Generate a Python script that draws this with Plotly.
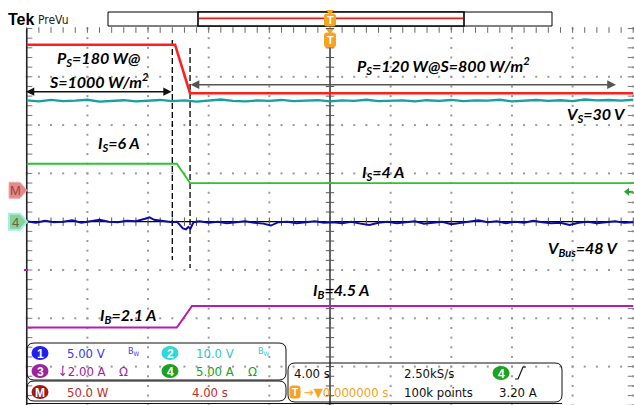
import plotly.graph_objects as go

W, H = 634, 405

# ---------------- screen geometry (graticule) ----------------
X_T0 = 330.0            # trigger column, pixels
PX_PER_S = 60.65 / 4.0  # 4.00 s/div
Y_DIV0 = 221.7          # centre row, pixels
PX_PER_DIV = 48.3


def X(px):
    return px / W


def Y(py):
    return 1.0 - py / H


def t_of(px):
    return (px - X_T0) / PX_PER_S


def d_of(py):
    return (Y_DIV0 - py) / PX_PER_DIV


# ---------------- measured values ----------------
PS_HIGH, PS_LOW = 180, 120        # W
IS_HIGH, IS_LOW = 6, 4            # A
IB_LOW, IB_HIGH = 2.1, 4.5        # A
VS_LEVEL = 30                     # V
VBUS_LEVEL = 48                   # V
IRR_HIGH, IRR_LOW = 1000, 800     # W/m2

ps_t = [-20.0, -10.22, -9.23, 20.0]
ps_w = [PS_HIGH, PS_HIGH, PS_LOW, PS_LOW]

is_t = [-20.0, -10.1, -9.23, 20.0]
is_a = [IS_HIGH, IS_HIGH, IS_LOW, IS_LOW]

ib_t = [-20.0, -10.1, -9.1, 20.0]
ib_a = [IB_LOW, IB_LOW, IB_HIGH, IB_HIGH]

vs_t = [-20.0, -19.2, -18.4, -17.6, -16.8, -16.0, -15.2, -14.4, -13.6, -12.8,
        -12.0, -11.2, -10.4, -9.6, -8.8, -8.0, -7.2, -6.4, -5.6, -4.8,
        -4.0, -3.2, -2.4, -1.6, -0.8, 0.0, 0.8, 1.6, 2.4, 3.2,
        4.0, 4.8, 5.6, 6.4, 7.2, 8.0, 8.8, 9.6, 10.4, 11.2,
        12.0, 12.8, 13.6, 14.4, 15.2, 16.0, 16.8, 17.6, 18.4, 19.2, 20.0]
vs_v = [30.1, 29.9, 30.2, 29.95, 30.05, 30.25, 29.85, 30.0, 30.15, 29.9,
        30.05, 30.2, 29.95, 30.1, 29.85, 30.05, 30.3, 30.0, 29.9, 30.1,
        30.0, 30.2, 29.95, 30.05, 30.15, 29.9, 30.1, 30.0, 30.25, 29.95,
        30.05, 30.1, 29.9, 30.15, 30.0, 30.2, 29.95, 30.1, 30.05, 30.25,
        29.9, 30.1, 30.2, 30.0, 30.15, 29.95, 30.3, 30.1, 30.2, 30.05, 30.25]

vbus_t = [-20.0, -19.4, -18.8, -18.2, -17.6, -17.0, -16.4, -15.8, -15.2, -14.6,
          -14.0, -13.4, -12.8, -12.2, -11.9, -11.6, -11.0, -10.4, -10.1, -9.9,
          -9.7, -9.5, -9.35, -9.2, -9.0, -8.6, -8.0, -7.4, -6.8, -6.2,
          -5.6, -5.0, -4.4, -3.9, -3.4, -2.8, -2.2, -1.6, -1.0, -0.4,
          0.2, 0.8, 1.4, 2.0, 2.6, 3.2, 3.8, 4.4, 5.0, 5.6,
          6.2, 6.8, 7.4, 8.0, 8.6, 9.2, 9.8, 10.4, 11.0, 11.6,
          12.2, 12.8, 13.4, 14.0, 14.6, 15.2, 15.8, 16.4, 17.0, 17.6,
          18.2, 18.8, 19.4, 20.0]
vbus_v = [48.05, 47.9, 48.1, 47.95, 48.0, 48.15, 47.9, 48.05, 48.2, 48.0,
          47.95, 48.1, 48.05, 48.3, 48.45, 48.2, 48.1, 47.95, 48.0, 47.6,
          47.3, 47.2, 47.45, 47.3, 47.95, 48.05, 47.9, 48.0, 47.85, 47.95,
          48.05, 47.9, 47.8, 47.6, 47.95, 48.0, 47.85, 47.95, 48.05, 47.9,
          47.95, 47.85, 48.0, 47.8, 47.65, 47.9, 48.0, 47.85, 47.95, 48.05,
          47.8, 47.9, 48.0, 47.75, 47.9, 48.05, 48.15, 47.95, 48.05, 47.85,
          48.0, 47.9, 48.1, 47.95, 47.85, 47.9, 47.65, 47.9, 48.0, 47.85,
          47.95, 48.05, 47.9, 47.95]

# vertical channel settings: units/div, reference value, position (div)
CH = {
    "math": dict(scale=59.7, ref=0.0, pos=0.65, color="#ff1f1f", width=2.6),
    "ch2": dict(scale=10.0, ref=0.0, pos=-0.5, color="#17a0a0", width=2.3),
    "ch4": dict(scale=5.0, ref=0.0, pos=0.0, color="#2ec42e", width=1.8),
    "ch1": dict(scale=5.0, ref=VBUS_LEVEL, pos=0.0, color="#0c0ca0", width=2.0),
    "ch3": dict(scale=5.39, ref=0.0, pos=-2.58, color="#b51cb5", width=2.0),
}


def to_div(ch, values):
    c = CH[ch]
    return [(v - c["ref"]) / c["scale"] + c["pos"] for v in values]


fig = go.Figure()

# ---------------- graticule ----------------
minor_t = [-20 + 0.8 * k for k in range(51)]
minor_d = [-3.8 + 0.2 * k for k in range(40)]
gx, gy = [], []
for col in [-16, -12, -8, -4, 4, 8, 12, 16, 20]:
    for d in minor_d:
        gx.append(col)
        gy.append(d)
for row in [3, 2, 1, -1, -2, -3]:
    for t in minor_t:
        gx.append(t)
        gy.append(row)
fig.add_trace(go.Scatter(x=gx, y=gy, mode="markers", hoverinfo="skip",
                         marker=dict(size=2, color="#999999", symbol="square")))

# centre lines
fig.add_trace(go.Scatter(x=[-20, 20], y=[0, 0], mode="lines", hoverinfo="skip",
                         line=dict(color="#000", width=1.2)))
fig.add_trace(go.Scatter(x=[0, 0], y=[4, -3.8], mode="lines", hoverinfo="skip",
                         line=dict(color="#000", width=1.2)))
fig.add_trace(go.Scatter(x=minor_t, y=[0] * len(minor_t), mode="markers", hoverinfo="skip",
                         marker=dict(symbol="line-ns", size=6, line=dict(width=1, color="#555"))))
fig.add_trace(go.Scatter(x=[0] * len(minor_d), y=minor_d, mode="markers", hoverinfo="skip",
                         marker=dict(symbol="line-ew", size=6, line=dict(width=1, color="#555"))))
# top edge ticks
fig.add_trace(go.Scatter(x=minor_t, y=[d_of(30.0)] * len(minor_t), mode="markers", hoverinfo="skip",
                         marker=dict(symbol="line-ns", size=4, line=dict(width=1, color="#666"))))
# left / right edge ticks
fig.add_trace(go.Scatter(x=[t_of(29.5)] * len(minor_d) + [t_of(630.5)] * len(minor_d),
                         y=minor_d + minor_d, mode="markers", hoverinfo="skip",
                         marker=dict(symbol="line-ew", size=4, line=dict(width=1, color="#777"))))
# left border
fig.add_trace(go.Scatter(x=[-20, -20], y=[4, -3.8], mode="lines", hoverinfo="skip",
                         line=dict(color="#222", width=1.6)))

# ---------------- transition markers ----------------
fig.add_trace(go.Scatter(x=[-10.4, -10.4], y=[d_of(40), d_of(260)], mode="lines", hoverinfo="skip",
                         line=dict(color="#000", width=1.3, dash="6px,3px")))
fig.add_trace(go.Scatter(x=[-9.23, -9.23], y=[d_of(48), d_of(268)], mode="lines", hoverinfo="skip",
                         line=dict(color="#000", width=1.3, dash="6px,3px")))

# ---------------- waveforms ----------------
def wave(ch, t, v):
    c = CH[ch]
    fig.add_trace(go.Scatter(x=t, y=to_div(ch, v), mode="lines", hoverinfo="skip",
                             line=dict(color=c["color"], width=c["width"])))


wave("ch3", ib_t, ib_a)
wave("ch1", vbus_t, vbus_v)
wave("ch4", is_t, is_a)
wave("ch2", vs_t, vs_v)
wave("math", ps_t, ps_w)

fig.update_xaxes(range=[t_of(0), t_of(W)], visible=False, fixedrange=True)
fig.update_yaxes(range=[d_of(H), d_of(0)], visible=False, fixedrange=True)

shapes = []
ann = []


def rrect(x0, y0, x1, y1, r, color="#000", width=1.0, fill=None):
    p = (f"M {X(x0 + r)},{Y(y0)} L {X(x1 - r)},{Y(y0)} Q {X(x1)},{Y(y0)} {X(x1)},{Y(y0 + r)} "
         f"L {X(x1)},{Y(y1 - r)} Q {X(x1)},{Y(y1)} {X(x1 - r)},{Y(y1)} "
         f"L {X(x0 + r)},{Y(y1)} Q {X(x0)},{Y(y1)} {X(x0)},{Y(y1 - r)} "
         f"L {X(x0)},{Y(y0 + r)} Q {X(x0)},{Y(y0)} {X(x0 + r)},{Y(y0)} Z")
    shapes.append(dict(type="path", xref="paper", yref="paper", path=p,
                       line=dict(color=color, width=width),
                       fillcolor=fill if fill else "rgba(0,0,0,0)"))


NARROW = "Liberation Sans Narrow, DejaVu Sans Condensed, sans-serif"
SANS = "Liberation Sans, Arial, sans-serif"


def text(s, x, y, size=13, color="#000", family=NARROW, xanchor="left", bold=False, italic=False):
    ann.append(dict(text=s, x=X(x), y=Y(y), xref="paper", yref="paper", showarrow=False,
                    xanchor=xanchor, yanchor="middle",
                    font=dict(size=size, color=color, family=family,
                              weight="bold" if bold else "normal",
                              style="italic" if italic else "normal")))


def badge(cx, cy, label, fill, rx=8.5, ry=7.0, txt="#fff"):
    shapes.append(dict(type="circle", xref="paper", yref="paper",
                       x0=X(cx - rx), x1=X(cx + rx), y0=Y(cy - ry), y1=Y(cy + ry),
                       fillcolor=fill, line=dict(width=0)))
    text(label, cx, cy + 0.5, size=12, color=txt, xanchor="center", bold=True, family=SANS)


# ---------------- header ----------------
text("Tek", 6, 19, size=16, bold=True, family=SANS)
text("PreVu", 36, 19.5, size=12, color="#222")
shapes.append(dict(type="rect", xref="paper", yref="paper", x0=X(108), x1=X(552), y0=Y(12), y1=Y(26),
                   line=dict(color="#000", width=1), fillcolor="#fff"))
shapes.append(dict(type="rect", xref="paper", yref="paper", x0=X(198), x1=X(464), y0=Y(12), y1=Y(26),
                   line=dict(color="#000", width=1.6), fillcolor="#fff"))
shapes.append(dict(type="line", xref="paper", yref="paper", x0=X(199), x1=X(463), y0=Y(18.3), y1=Y(18.3),
                   line=dict(color="#f3b6b6", width=3)))
shapes.append(dict(type="line", xref="paper", yref="paper", x0=X(199), x1=X(463), y0=Y(18.3), y1=Y(18.3),
                   line=dict(color="#d42020", width=1.2)))

ORANGE = "#f5a320"


def t_marker(cx, top, h):
    shapes.append(dict(type="path", xref="paper", yref="paper",
                       path=f"M {X(cx - 4)},{Y(top - 4)} L {X(cx + 4)},{Y(top - 4)} L {X(cx)},{Y(top + 1)} Z",
                       fillcolor=ORANGE, line=dict(width=0)))
    rrect(cx - 5.5, top, cx + 5.5, top + h, 2, color=ORANGE, width=1, fill=ORANGE)
    text("T", cx, top + h / 2 + 0.5, size=11, color="#fff", xanchor="center", bold=True, family=SANS)


t_marker(X_T0, 14, 12)
t_marker(X_T0, 33, 14)

# ---------------- left / right edge markers ----------------
ym = Y_DIV0 - CH["math"]["pos"] * PX_PER_DIV
shapes.append(dict(type="path", xref="paper", yref="paper",
                   path=(f"M {X(9)},{Y(ym - 8)} L {X(20)},{Y(ym - 8)} L {X(27)},{Y(ym)} "
                         f"L {X(20)},{Y(ym + 8)} L {X(9)},{Y(ym + 8)} Z"),
                   fillcolor="#e08a8a", line=dict(color="#f0b0b0", width=1)))
text("M", 15, ym + 0.5, size=13, color="#a84040", xanchor="center", family=SANS)
y4 = Y_DIV0 - CH["ch4"]["pos"] * PX_PER_DIV
shapes.append(dict(type="path", xref="paper", yref="paper",
                   path=(f"M {X(9)},{Y(y4 - 8)} L {X(20)},{Y(y4 - 8)} L {X(27)},{Y(y4)} "
                         f"L {X(20)},{Y(y4 + 8)} L {X(9)},{Y(y4 + 8)} Z"),
                   fillcolor="#8ed08e", line=dict(color="#9feeee", width=2)))
text("4", 15, y4 + 0.5, size=13, color="#5a6a5a", xanchor="center", family=SANS)
shapes.append(dict(type="line", xref="paper", yref="paper", x0=X(24), x1=X(27), y0=Y(270), y1=Y(270),
                   line=dict(color="#b51cb5", width=2)))
# ch4 trigger level arrow on the right edge
ytrig = 191.7
shapes.append(dict(type="path", xref="paper", yref="paper",
                   path=f"M {X(624)},{Y(ytrig)} L {X(629)},{Y(ytrig - 4)} L {X(629)},{Y(ytrig + 4)} Z",
                   fillcolor="#22aa22", line=dict(width=0)))
shapes.append(dict(type="line", xref="paper", yref="paper", x0=X(628), x1=X(633), y0=Y(ytrig), y1=Y(ytrig),
                   line=dict(color="#22aa22", width=1.5)))

# ---------------- arrows ----------------
ya = d_of(91.7)
ann.append(dict(x=-10.45, y=ya, ax=t_of(24.5), ay=ya, xref="x", yref="y", axref="x", ayref="y",
                text="", showarrow=True, arrowhead=2, startarrowhead=2, arrowside="end+start",
                arrowsize=1.1, startarrowsize=1.1, arrowwidth=1.5, arrowcolor="#111"))
yb = d_of(84.7)
ann.append(dict(x=t_of(616), y=yb, ax=-9.3, ay=yb, xref="x", yref="y", axref="x", ayref="y",
                text="", showarrow=True, arrowhead=2, startarrowhead=2, arrowside="end+start",
                arrowsize=1.1, startarrowsize=1.1, arrowwidth=1.6, arrowcolor="#555"))

# ---------------- waveform labels ----------------
LBL = "Lato, Open Sans, sans-serif"


def label(s, x, y):
    text(s, x, y, size=16, family=LBL, bold=True, italic=True)


label(f"P<sub>S</sub>={PS_HIGH} W@", 55, 58)
label(f"S={IRR_HIGH} W/m<sup>2</sup>", 47, 80)
label(f"I<sub>S</sub>={IS_HIGH} A", 96, 143)
label(f"P<sub>S</sub>={PS_LOW} W@S={IRR_LOW} W/m<sup>2</sup>", 355, 65)
label(f"V<sub>S</sub>={VS_LEVEL} V", 565, 115)
label(f"I<sub>S</sub>={IS_LOW} A", 360, 172)
label(f"V<sub>Bus</sub>={VBUS_LEVEL} V", 546, 248)
label(f"I<sub>B</sub>={IB_HIGH} A", 311, 290)
label(f"I<sub>B</sub>={IB_LOW} A", 98, 315)

# ---------------- readout panel ----------------
rrect(27, 343, 286, 380, 7, color="#111", width=1)
rrect(27, 381, 286, 401, 7, color="#111", width=1)
rrect(288, 363, 562, 402, 7, color="#111", width=1)
shapes.append(dict(type="line", xref="paper", yref="paper", x0=X(27), x1=X(562), y0=Y(403.5), y1=Y(403.5),
                   line=dict(color="#111", width=1)))

C1, C2, C3, C4, CM = "#2020f0", "#30d8d8", "#a020a0", "#20a020", "#a01818"
badge(40, 353, "1", C1)
text("5.00 V", 65, 353, color="#3a3af0")
text("B<sub>W</sub>", 126, 351, size=9, color="#3a3af0")
badge(170, 353, "2", C2)
text("10.0 V", 194, 353, color="#30c8c8")
text("B<sub>W</sub>", 256, 351, size=9, color="#30c8c8")
badge(40, 371, "3", C3)
text("\u21932.00 A", 56, 371, color=C3)
text("\u03a9", 117, 371, color=C3)
badge(170, 371, "4", C4)
text("5.00 A", 194, 371, color=C4)
text("\u03a9", 246, 371, color=C4)
badge(40, 392, "M", CM)
text("50.0 W", 65, 392, color="#b83030")
text("4.00 s", 190, 392, color="#b83030")

text("4.00 s", 292, 373, color="#111")
text("2.50kS/s", 402, 373, color="#111")
badge(501, 373, "4", C4)
shapes.append(dict(type="path", xref="paper", yref="paper",
                   path=(f"M {X(515)},{Y(379)} L {X(518)},{Y(379)} L {X(523)},{Y(367)} L {X(526)},{Y(367)}"),
                   line=dict(color="#111", width=1.2)))
rrect(290, 386, 300, 398, 2, color=ORANGE, width=1, fill=ORANGE)
text("T", 295, 392.5, size=10, color="#fff", xanchor="center", bold=True, family=SANS)
text("\u2192\u25bc0.000000 s", 302, 392, color=ORANGE)
text("100k points", 402, 392, color="#111")
text("3.20 A", 497, 392, color="#111")

fig.update_layout(width=W, height=H, autosize=False, margin=dict(l=0, r=0, t=0, b=0, pad=0),
                  paper_bgcolor="#fff", plot_bgcolor="#fff", showlegend=False,
                  shapes=shapes, annotations=ann)

fig.write_html("out.html", config={"displayModeBar": False})
